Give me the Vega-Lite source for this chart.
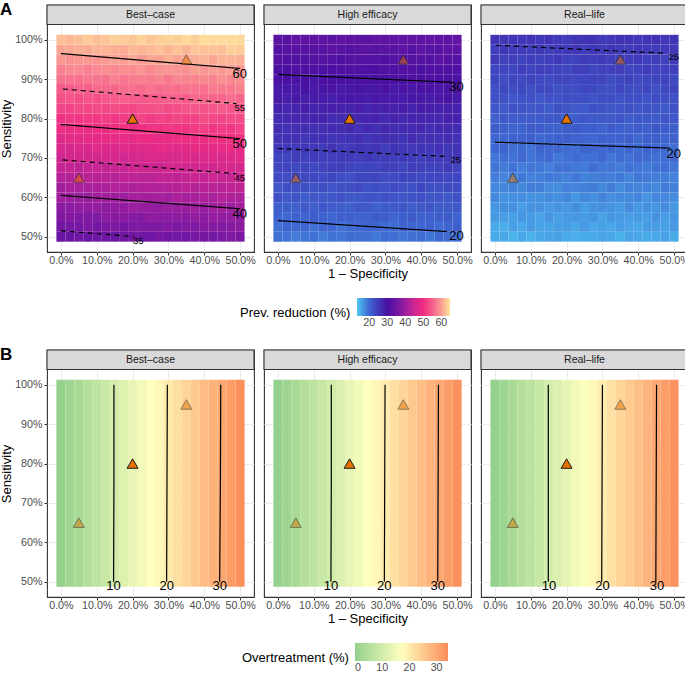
{
"$schema": "https://vega.github.io/schema/vega-lite/v6.json",
"padding": {"left": 0, "top": 0, "right": 0, "bottom": 0},
"background": "white",
"config": {
  "font": "Liberation Sans",
  "view": {"stroke": "#333333", "strokeWidth": 1.1},
  "axis": {"labelFontSize": 10.7, "labelColor": "#4D4D4D", "titleFontSize": 13, "titleFontWeight": "normal", "titleColor": "#000000", "tickColor": "#333333", "tickSize": 3, "domain": false, "gridColor": "#EBEBEB", "gridWidth": 1, "labelFlush": false, "labelOverlap": false, "titlePadding": 2},
  "axisX": {"labelPadding": 0.5},
  "axisY": {"titlePadding": 1, "labelPadding": 2},
  "legend": {"orient": "bottom", "direction": "horizontal", "titleOrient": "left", "titleAnchor": "middle", "titleBaseline": "top", "gradientLength": 93, "gradientThickness": 18, "titleFontSize": 13, "titleFontWeight": "normal", "titleColor": "#000000", "labelFontSize": 10.7, "labelColor": "#4D4D4D", "offset": 17, "titlePadding": 6, "labelOffset": 6, "gradientStrokeWidth": 0, "layout": {"bottom": {"anchor": "middle"}}},
  "title": {"fontSize": 17, "fontWeight": "bold", "anchor": "start", "frame": "bounds", "color": "#000000"},
  "concat": {"spacing": 6}
},
"datasets": {
  "xs": [
    {"i":1,"x":-0.0125,"x2":0.0125},{"i":2,"x":0.0125,"x2":0.0375},{"i":3,"x":0.0375,"x2":0.0625},{"i":4,"x":0.0625,"x2":0.0875},{"i":5,"x":0.0875,"x2":0.1125},{"i":6,"x":0.1125,"x2":0.1375},{"i":7,"x":0.1375,"x2":0.1625},{"i":8,"x":0.1625,"x2":0.1875},{"i":9,"x":0.1875,"x2":0.2125},{"i":10,"x":0.2125,"x2":0.2375},{"i":11,"x":0.2375,"x2":0.2625},{"i":12,"x":0.2625,"x2":0.2875},{"i":13,"x":0.2875,"x2":0.3125},{"i":14,"x":0.3125,"x2":0.3375},{"i":15,"x":0.3375,"x2":0.3625},{"i":16,"x":0.3625,"x2":0.3875},{"i":17,"x":0.3875,"x2":0.4125},{"i":18,"x":0.4125,"x2":0.4375},{"i":19,"x":0.4375,"x2":0.4625},{"i":20,"x":0.4625,"x2":0.4875},{"i":21,"x":0.4875,"x2":0.5125}
  ],
  "a": [
    {"t":"s","p":"Best–case"},{"t":"s","p":"High efficacy"},{"t":"s","p":"Real–life"},
    {"t":"h","p":"Best–case","y":0.4875,"y2":0.5125,"v":[34.5,34.1,34.9,34.1,34.7,34.8,34.3,35.2,35.5,35.1,35.0,36.0,35.3,35.7,35.2,36.2,36.0,35.7,36.4,36.8,36.3]},
    {"t":"h","p":"Best–case","y":0.5125,"y2":0.5375,"v":[35.2,35.8,35.7,36.5,35.7,36.4,36.7,35.9,36.5,36.9,36.5,36.7,37.4,36.4,37.3,37.0,37.8,37.6,37.4,37.7,38.1]},
    {"t":"h","p":"Best–case","y":0.5375,"y2":0.5625,"v":[37.1,37.5,36.8,37.2,36.7,37.9,37.7,38.0,37.6,37.4,38.6,38.1,38.1,38.6,38.0,38.8,38.4,39.3,38.9,38.8,38.5]},
    {"t":"h","p":"Best–case","y":0.5625,"y2":0.5875,"v":[38.2,38.1,38.9,38.8,39.2,38.5,38.8,39.1,39.8,39.4,39.1,39.0,39.9,39.6,39.8,40.4,39.5,40.4,40.6,40.0,40.6]},
    {"t":"h","p":"Best–case","y":0.5875,"y2":0.6125,"v":[40.2,39.8,39.7,39.5,40.3,40.6,40.3,40.1,40.7,41.1,40.8,41.1,40.4,41.5,41.0,41.3,41.8,41.3,42.3,41.9,41.6]},
    {"t":"h","p":"Best–case","y":0.6125,"y2":0.6375,"v":[40.5,41.5,41.4,41.2,41.5,41.4,42.3,42.1,41.6,42.0,42.6,42.1,42.5,42.5,43.2,42.3,43.1,42.9,42.8,43.6,43.5]},
    {"t":"h","p":"Best–case","y":0.6375,"y2":0.6625,"v":[42.5,42.2,43.3,43.1,42.8,43.2,42.7,43.7,43.6,43.2,43.0,44.0,43.8,43.7,44.1,44.7,44.1,44.8,44.4,44.1,45.0]},
    {"t":"h","p":"Best–case","y":0.6625,"y2":0.6875,"v":[44.3,44.2,43.6,44.1,44.6,43.9,44.6,44.5,45.3,45.1,45.1,44.7,45.6,45.6,45.1,45.6,45.8,45.3,46.4,46.2,45.9]},
    {"t":"h","p":"Best–case","y":0.6875,"y2":0.7125,"v":[45.1,46.0,45.5,46.0,45.3,46.1,46.3,45.5,46.1,46.3,46.9,46.6,46.3,46.3,47.2,46.8,47.0,47.5,46.8,47.4,48.1]},
    {"t":"h","p":"Best–case","y":0.7125,"y2":0.7375,"v":[46.8,46.3,47.2,46.7,47.7,47.2,47.0,47.6,47.9,47.5,47.7,48.3,48.2,47.6,48.2,49.0,48.2,48.4,48.8,49.1,48.5]},
    {"t":"h","p":"Best–case","y":0.7375,"y2":0.7625,"v":[47.8,48.2,47.9,48.9,48.3,49.3,49.0,48.8,48.5,49.5,49.5,48.7,49.3,49.7,50.1,49.4,49.9,50.6,49.9,50.1,50.4]},
    {"t":"h","p":"Best–case","y":0.7625,"y2":0.7875,"v":[50.0,49.3,49.8,49.1,49.9,49.6,50.1,50.7,50.0,50.0,50.7,50.6,51.1,50.7,50.7,51.2,51.7,51.0,51.4,50.9,52.0]},
    {"t":"h","p":"Best–case","y":0.7875,"y2":0.8125,"v":[50.3,51.3,50.9,51.2,50.9,51.7,50.9,51.6,51.9,52.4,51.5,52.2,51.9,52.7,52.2,52.2,53.2,52.7,52.4,53.1,52.9]},
    {"t":"h","p":"Best–case","y":0.8125,"y2":0.8375,"v":[52.4,52.2,52.9,52.5,53.0,52.6,53.2,52.7,52.5,53.3,53.3,53.9,53.0,53.4,54.0,54.1,53.6,54.2,54.6,54.0,54.4]},
    {"t":"h","p":"Best–case","y":0.8375,"y2":0.8625,"v":[53.6,54.0,53.2,54.1,53.5,54.3,54.7,55.0,54.5,54.3,54.5,54.7,55.2,55.1,54.5,55.7,55.6,55.3,55.5,56.2,55.5]},
    {"t":"h","p":"Best–case","y":0.8625,"y2":0.8875,"v":[54.6,54.5,55.4,55.0,56.0,55.6,55.6,56.1,56.3,55.8,56.6,55.9,56.4,56.0,56.7,56.6,56.3,57.2,57.2,57.1,57.7]},
    {"t":"h","p":"Best–case","y":0.8875,"y2":0.9125,"v":[56.7,56.6,56.4,57.1,56.8,56.5,57.7,56.8,57.4,57.6,57.4,58.0,57.1,58.1,57.9,57.9,58.3,57.9,58.9,58.2,58.8]},
    {"t":"h","p":"Best–case","y":0.9125,"y2":0.9375,"v":[57.7,58.4,58.4,57.6,58.4,58.7,58.2,58.7,58.5,59.3,58.3,59.1,59.3,59.2,58.9,60.1,59.3,59.9,59.6,60.3,59.5]},
    {"t":"h","p":"Best–case","y":0.9375,"y2":0.9625,"v":[59.6,59.0,59.4,59.6,59.2,59.6,60.1,59.9,60.6,59.6,60.6,60.2,61.1,60.3,60.8,60.9,61.4,60.5,61.5,61.4,61.2]},
    {"t":"h","p":"Best–case","y":0.9625,"y2":0.9875,"v":[60.4,60.7,61.1,60.8,61.5,61.6,60.9,60.8,61.8,61.6,61.9,62.4,61.6,62.4,61.6,62.5,62.3,62.5,62.2,63.3,62.9]},
    {"t":"h","p":"Best–case","y":0.9875,"y2":1.0125,"v":[62.1,61.7,62.1,62.9,62.2,62.5,63.2,63.0,62.6,63.4,62.6,63.2,63.5,63.2,63.9,63.1,64.1,64.0,64.0,63.9,63.8]},
    {"t":"h","p":"High efficacy","y":0.4875,"y2":0.5125,"v":[19.3,19.1,18.5,18.9,19.3,18.5,19.1,18.9,19.6,19.4,19.3,18.8,19.7,19.6,19.0,19.4,19.5,18.9,19.9,19.7,19.3]},
    {"t":"h","p":"High efficacy","y":0.5125,"y2":0.5375,"v":[19.4,20.2,19.7,20.1,19.3,20.0,20.1,19.2,19.7,19.9,20.4,20.0,19.7,19.6,20.4,19.9,20.0,20.4,19.6,20.2,20.8]},
    {"t":"h","p":"High efficacy","y":0.5375,"y2":0.5625,"v":[20.4,19.8,20.7,20.1,21.0,20.4,20.1,20.6,20.8,20.4,20.5,21.0,20.9,20.2,20.7,21.4,20.5,20.6,20.9,21.2,20.5]},
    {"t":"h","p":"High efficacy","y":0.5625,"y2":0.5875,"v":[20.6,20.9,20.6,21.5,20.8,21.7,21.3,21.0,20.6,21.6,21.5,20.6,21.2,21.5,21.8,21.0,21.4,22.0,21.2,21.4,21.6]},
    {"t":"h","p":"High efficacy","y":0.5875,"y2":0.6125,"v":[22.2,21.4,21.9,21.1,21.8,21.4,21.8,22.3,21.5,21.5,22.1,21.9,22.4,21.9,21.8,22.2,22.6,21.8,22.1,21.6,22.6]},
    {"t":"h","p":"High efficacy","y":0.6125,"y2":0.6375,"v":[21.8,22.7,22.3,22.5,22.1,22.8,21.9,22.5,22.7,23.2,22.2,22.8,22.5,23.2,22.6,22.5,23.4,22.8,22.4,23.1,22.8]},
    {"t":"h","p":"High efficacy","y":0.6375,"y2":0.6625,"v":[23.2,22.9,23.6,23.1,23.5,23.0,23.5,22.9,22.6,23.4,23.3,23.8,22.9,23.2,23.7,23.7,23.1,23.6,23.9,23.3,23.6]},
    {"t":"h","p":"High efficacy","y":0.6625,"y2":0.6875,"v":[23.6,23.9,23.1,23.9,23.2,23.9,24.2,24.4,23.8,23.6,23.7,23.8,24.3,24.1,23.4,24.5,24.3,23.9,24.0,24.7,23.9]},
    {"t":"h","p":"High efficacy","y":0.6875,"y2":0.7125,"v":[23.9,23.7,24.6,24.1,25.0,24.5,24.4,24.8,24.9,24.4,25.1,24.3,24.8,24.3,24.9,24.7,24.3,25.1,25.0,24.9,25.4]},
    {"t":"h","p":"High efficacy","y":0.7125,"y2":0.7375,"v":[25.3,25.1,24.9,25.5,25.1,24.7,25.8,24.8,25.3,25.5,25.2,25.7,24.8,25.7,25.4,25.3,25.6,25.1,26.0,25.3,25.8]},
    {"t":"h","p":"High efficacy","y":0.7375,"y2":0.7625,"v":[25.6,26.2,26.2,25.3,26.0,26.2,25.6,26.0,25.7,26.5,25.4,26.1,26.3,26.1,25.7,26.8,25.9,26.4,26.0,26.7,25.8]},
    {"t":"h","p":"High efficacy","y":0.7625,"y2":0.7875,"v":[26.7,26.0,26.4,26.5,26.0,26.3,26.7,26.4,27.0,26.0,26.9,26.4,27.3,26.4,26.8,26.8,27.2,26.2,27.1,27.0,26.7]},
    {"t":"h","p":"High efficacy","y":0.7875,"y2":0.8125,"v":[26.8,27.0,27.4,27.0,27.6,27.6,26.8,26.6,27.5,27.3,27.5,27.9,27.1,27.8,26.9,27.7,27.4,27.5,27.1,28.2,27.7]},
    {"t":"h","p":"High efficacy","y":0.8125,"y2":0.8375,"v":[27.8,27.3,27.7,28.4,27.6,27.8,28.4,28.1,27.6,28.4,27.5,28.0,28.3,27.9,28.5,27.6,28.5,28.3,28.2,28.1,27.9]},
    {"t":"h","p":"High efficacy","y":0.8375,"y2":0.8625,"v":[28.7,28.2,29.0,28.1,28.6,28.6,28.0,28.8,29.0,28.6,28.4,29.3,28.6,28.9,28.3,29.2,28.9,28.5,29.1,29.5,28.9]},
    {"t":"h","p":"High efficacy","y":0.8625,"y2":0.8875,"v":[28.6,29.1,29.0,29.7,28.8,29.4,29.6,28.7,29.2,29.6,29.1,29.2,29.9,28.8,29.6,29.2,29.9,29.6,29.3,29.6,29.9]},
    {"t":"h","p":"High efficacy","y":0.8875,"y2":0.9125,"v":[29.9,30.2,29.5,29.8,29.2,30.3,30.0,30.2,29.7,29.5,30.6,30.0,30.0,30.4,29.7,30.4,29.9,30.7,30.2,30.1,29.7]},
    {"t":"h","p":"High efficacy","y":0.9125,"y2":0.9375,"v":[30.3,30.1,30.9,30.7,31.0,30.2,30.4,30.6,31.2,30.8,30.4,30.2,31.1,30.7,30.8,31.3,30.3,31.1,31.2,30.6,31.1]},
    {"t":"h","p":"High efficacy","y":0.9375,"y2":0.9625,"v":[31.6,31.1,31.0,30.7,31.4,31.6,31.2,30.9,31.4,31.8,31.4,31.6,30.9,31.9,31.3,31.5,31.9,31.3,32.2,31.8,31.4]},
    {"t":"h","p":"High efficacy","y":0.9625,"y2":0.9875,"v":[31.1,32.0,31.9,31.6,31.8,31.6,32.4,32.1,31.5,31.9,32.4,31.8,32.2,32.1,32.7,31.7,32.4,32.1,31.9,32.7,32.5]},
    {"t":"h","p":"High efficacy","y":0.9875,"y2":1.0125,"v":[32.4,32.0,33.1,32.8,32.4,32.7,32.1,33.0,32.8,32.4,32.1,33.0,32.8,32.6,32.9,33.4,32.7,33.3,32.8,32.5,33.3]},
    {"t":"h","p":"Real–life","y":0.4875,"y2":0.5125,"v":[15.1,15.4,14.5,15.3,14.7,15.3,15.6,15.8,15.2,14.9,15.1,15.2,15.6,15.4,14.7,15.7,15.5,15.2,15.3,15.9,15.1]},
    {"t":"h","p":"Real–life","y":0.5125,"y2":0.5375,"v":[15.2,15.0,15.8,15.3,16.3,15.7,15.6,16.0,16.1,15.5,16.3,15.5,15.9,15.4,16.0,15.7,15.3,16.2,16.1,15.9,16.4]},
    {"t":"h","p":"Real–life","y":0.5375,"y2":0.5625,"v":[16.4,16.2,15.9,16.5,16.2,15.7,16.8,15.8,16.3,16.4,16.2,16.7,15.7,16.6,16.3,16.1,16.4,16.0,16.9,16.1,16.6]},
    {"t":"h","p":"Real–life","y":0.5625,"y2":0.5875,"v":[16.5,17.1,17.0,16.1,16.9,17.0,16.4,16.8,16.5,17.2,16.2,16.9,17.0,16.8,16.4,17.4,16.5,17.1,16.7,17.3,16.4]},
    {"t":"h","p":"Real–life","y":0.5875,"y2":0.6125,"v":[17.5,16.8,17.1,17.2,16.8,17.0,17.4,17.1,17.7,16.6,17.6,17.1,17.9,17.0,17.4,17.3,17.7,16.8,17.7,17.5,17.2]},
    {"t":"h","p":"Real–life","y":0.6125,"y2":0.6375,"v":[17.5,17.7,18.0,17.6,18.3,18.2,17.4,17.2,18.1,17.8,18.1,18.5,17.6,18.3,17.4,18.1,17.8,18.0,17.6,18.6,18.1]},
    {"t":"h","p":"Real–life","y":0.6375,"y2":0.6625,"v":[18.3,17.8,18.1,18.8,18.1,18.2,18.8,18.5,18.0,18.7,17.9,18.4,18.6,18.2,18.8,17.8,18.7,18.6,18.5,18.3,18.1]},
    {"t":"h","p":"Real–life","y":0.6625,"y2":0.6875,"v":[19.0,18.5,19.2,18.3,18.9,18.8,18.2,19.0,19.2,18.7,18.6,19.5,18.7,19.0,18.4,19.2,18.9,18.6,19.2,19.5,18.9]},
    {"t":"h","p":"Real–life","y":0.6875,"y2":0.7125,"v":[18.8,19.3,19.1,19.8,19.0,19.5,19.7,18.8,19.3,19.6,19.2,19.3,19.9,18.8,19.6,19.1,19.8,19.6,19.3,19.5,19.8]},
    {"t":"h","p":"Real–life","y":0.7125,"y2":0.7375,"v":[19.9,20.2,19.4,19.7,19.2,20.2,19.9,20.1,19.6,19.3,20.5,19.9,19.8,20.2,19.5,20.1,19.6,20.5,20.0,19.8,19.4]},
    {"t":"h","p":"Real–life","y":0.7375,"y2":0.7625,"v":[20.1,19.9,20.6,20.4,20.8,19.9,20.1,20.3,20.9,20.4,20.1,19.9,20.7,20.3,20.4,20.8,19.8,20.7,20.8,20.1,20.6]},
    {"t":"h","p":"Real–life","y":0.7625,"y2":0.7875,"v":[21.2,20.7,20.5,20.2,21.0,21.1,20.7,20.4,20.9,21.2,20.9,21.1,20.3,21.3,20.7,20.8,21.2,20.7,21.6,21.1,20.7]},
    {"t":"h","p":"Real–life","y":0.7875,"y2":0.8125,"v":[20.6,21.5,21.3,21.0,21.3,21.0,21.8,21.5,20.9,21.2,21.8,21.2,21.5,21.4,22.0,20.9,21.6,21.4,21.2,21.9,21.7]},
    {"t":"h","p":"Real–life","y":0.8125,"y2":0.8375,"v":[21.7,21.3,22.3,22.0,21.7,21.9,21.3,22.2,22.0,21.5,21.3,22.2,21.9,21.7,22.0,22.4,21.7,22.4,21.9,21.5,22.3]},
    {"t":"h","p":"Real–life","y":0.8375,"y2":0.8625,"v":[22.6,22.4,21.7,22.1,22.6,21.7,22.3,22.1,22.8,22.5,22.5,22.0,22.8,22.7,22.1,22.4,22.5,22.0,23.0,22.7,22.3]},
    {"t":"h","p":"Real–life","y":0.8625,"y2":0.8875,"v":[22.6,23.4,22.8,23.2,22.5,23.1,23.2,22.3,22.8,22.9,23.5,23.1,22.7,22.6,23.4,22.8,22.9,23.4,22.6,23.1,23.7]},
    {"t":"h","p":"Real–life","y":0.8875,"y2":0.9125,"v":[23.4,22.8,23.6,23.0,24.0,23.3,23.0,23.5,23.7,23.2,23.4,23.9,23.7,23.0,23.5,24.1,23.2,23.4,23.7,23.9,23.2]},
    {"t":"h","p":"Real–life","y":0.9125,"y2":0.9375,"v":[23.5,23.8,23.4,24.3,23.7,24.5,24.1,23.8,23.4,24.3,24.3,23.4,23.9,24.2,24.5,23.6,24.0,24.7,23.9,24.0,24.2]},
    {"t":"h","p":"Real–life","y":0.9375,"y2":0.9625,"v":[24.9,24.1,24.5,23.7,24.5,24.0,24.4,24.9,24.1,24.0,24.7,24.5,24.9,24.4,24.3,24.6,25.0,24.3,24.6,24.0,25.0]},
    {"t":"h","p":"Real–life","y":0.9625,"y2":0.9875,"v":[24.3,25.2,24.7,24.9,24.6,25.2,24.3,24.9,25.1,25.5,24.6,25.2,24.8,25.5,24.9,24.7,25.6,25.1,24.7,25.3,25.0]},
    {"t":"h","p":"Real–life","y":0.9875,"y2":1.0125,"v":[25.5,25.2,25.8,25.3,25.8,25.2,25.7,25.1,24.8,25.5,25.5,26.0,25.0,25.3,25.8,25.7,25.1,25.7,26.0,25.3,25.6]},
    {"t":"l","p":"Best–case","lev":"60","d":"s","x":0,"y":0.965},{"t":"l","p":"Best–case","lev":"60","d":"s","x":0.5,"y":0.927},
    {"t":"l","p":"Best–case","lev":"55","d":"d","x":0.005,"y":0.875},{"t":"l","p":"Best–case","lev":"55","d":"d","x":0.49,"y":0.838},
    {"t":"l","p":"Best–case","lev":"50","d":"s","x":0,"y":0.785},{"t":"l","p":"Best–case","lev":"50","d":"s","x":0.5,"y":0.749},
    {"t":"l","p":"Best–case","lev":"45","d":"d","x":0.005,"y":0.695},{"t":"l","p":"Best–case","lev":"45","d":"d","x":0.49,"y":0.66},
    {"t":"l","p":"Best–case","lev":"40","d":"s","x":0,"y":0.605},{"t":"l","p":"Best–case","lev":"40","d":"s","x":0.5,"y":0.571},
    {"t":"l","p":"Best–case","lev":"35","d":"d","x":0,"y":0.515},{"t":"l","p":"Best–case","lev":"35","d":"d","x":0.204,"y":0.5005},
    {"t":"l","p":"High efficacy","lev":"30","d":"s","x":0,"y":0.912},{"t":"l","p":"High efficacy","lev":"30","d":"s","x":0.487,"y":0.892},
    {"t":"l","p":"High efficacy","lev":"25","d":"d","x":0,"y":0.724},{"t":"l","p":"High efficacy","lev":"25","d":"d","x":0.465,"y":0.704},
    {"t":"l","p":"High efficacy","lev":"20","d":"s","x":0,"y":0.541},{"t":"l","p":"High efficacy","lev":"20","d":"s","x":0.472,"y":0.513},
    {"t":"l","p":"Real–life","lev":"25","d":"d","x":0.003,"y":0.986},{"t":"l","p":"Real–life","lev":"25","d":"d","x":0.47,"y":0.966},
    {"t":"l","p":"Real–life","lev":"20","d":"s","x":0,"y":0.74},{"t":"l","p":"Real–life","lev":"20","d":"s","x":0.489,"y":0.725},
    {"t":"lab","p":"Best–case","txt":"60","d":"s","x":0.499,"y":0.914},
    {"t":"lab","p":"Best–case","txt":"55","d":"d","x":0.499,"y":0.827},
    {"t":"lab","p":"Best–case","txt":"50","d":"s","x":0.499,"y":0.735},
    {"t":"lab","p":"Best–case","txt":"45","d":"d","x":0.499,"y":0.65},
    {"t":"lab","p":"Best–case","txt":"40","d":"s","x":0.499,"y":0.557},
    {"t":"lab","p":"Best–case","txt":"35","d":"d","x":0.216,"y":0.49},
    {"t":"lab","p":"High efficacy","txt":"30","d":"s","x":0.498,"y":0.879},
    {"t":"lab","p":"High efficacy","txt":"25","d":"d","x":0.496,"y":0.696},
    {"t":"lab","p":"High efficacy","txt":"20","d":"s","x":0.498,"y":0.503},
    {"t":"lab","p":"Real–life","txt":"25","d":"d","x":0.499,"y":0.955},
    {"t":"lab","p":"Real–life","txt":"20","d":"s","x":0.499,"y":0.71},
    {"t":"tri","p":"Best–case","hi":"n","x":0.05,"y":0.65},{"t":"tri","p":"Best–case","hi":"y","x":0.2,"y":0.8},{"t":"tri","p":"Best–case","hi":"n","x":0.35,"y":0.95},
    {"t":"tri","p":"High efficacy","hi":"n","x":0.05,"y":0.65},{"t":"tri","p":"High efficacy","hi":"y","x":0.2,"y":0.8},{"t":"tri","p":"High efficacy","hi":"n","x":0.35,"y":0.95},
    {"t":"tri","p":"Real–life","hi":"n","x":0.05,"y":0.65},{"t":"tri","p":"Real–life","hi":"y","x":0.2,"y":0.8},{"t":"tri","p":"Real–life","hi":"n","x":0.35,"y":0.95}
  ],
  "b": [
    {"t":"s","p":"Best–case"},{"t":"s","p":"High efficacy"},{"t":"s","p":"Real–life"},
    {"t":"h","p":"Best–case","y":0.4875,"y2":1.0125,"v":[0.0,1.7,3.4,5.1,6.7,8.4,10.1,11.8,13.5,15.2,16.9,18.5,20.2,21.9,23.6,25.3,27.0,28.6,30.3,32.0,33.7]},
    {"t":"h","p":"High efficacy","y":0.4875,"y2":1.0125,"v":[0.0,1.7,3.3,5.0,6.7,8.4,10.0,11.7,13.4,15.1,16.8,18.4,20.1,21.8,23.5,25.2,26.8,28.5,30.2,31.9,33.6]},
    {"t":"h","p":"Real–life","y":0.4875,"y2":1.0125,"v":[0.0,1.6,3.3,5.0,6.6,8.3,10.0,11.6,13.3,15.0,16.7,18.3,20.0,21.7,23.4,25.0,26.7,28.4,30.1,31.7,33.4]},
    {"t":"l","p":"Best–case","lev":"10","d":"s","x":0.148,"y":1.0},{"t":"l","p":"Best–case","lev":"10","d":"s","x":0.148,"y":0.75},{"t":"l","p":"Best–case","lev":"10","d":"s","x":0.147,"y":0.5},
    {"t":"l","p":"Best–case","lev":"20","d":"s","x":0.297,"y":1.0},{"t":"l","p":"Best–case","lev":"20","d":"s","x":0.296,"y":0.75},{"t":"l","p":"Best–case","lev":"20","d":"s","x":0.295,"y":0.5},
    {"t":"l","p":"Best–case","lev":"30","d":"s","x":0.446,"y":1.0},{"t":"l","p":"Best–case","lev":"30","d":"s","x":0.445,"y":0.75},{"t":"l","p":"Best–case","lev":"30","d":"s","x":0.443,"y":0.5},
    {"t":"l","p":"High efficacy","lev":"10","d":"s","x":0.149,"y":1.0},{"t":"l","p":"High efficacy","lev":"10","d":"s","x":0.149,"y":0.75},{"t":"l","p":"High efficacy","lev":"10","d":"s","x":0.148,"y":0.5},
    {"t":"l","p":"High efficacy","lev":"20","d":"s","x":0.299,"y":1.0},{"t":"l","p":"High efficacy","lev":"20","d":"s","x":0.298,"y":0.75},{"t":"l","p":"High efficacy","lev":"20","d":"s","x":0.297,"y":0.5},
    {"t":"l","p":"High efficacy","lev":"30","d":"s","x":0.448,"y":1.0},{"t":"l","p":"High efficacy","lev":"30","d":"s","x":0.447,"y":0.75},{"t":"l","p":"High efficacy","lev":"30","d":"s","x":0.446,"y":0.5},
    {"t":"l","p":"Real–life","lev":"10","d":"s","x":0.149,"y":1.0},{"t":"l","p":"Real–life","lev":"10","d":"s","x":0.149,"y":0.75},{"t":"l","p":"Real–life","lev":"10","d":"s","x":0.149,"y":0.5},
    {"t":"l","p":"Real–life","lev":"20","d":"s","x":0.3,"y":1.0},{"t":"l","p":"Real–life","lev":"20","d":"s","x":0.299,"y":0.75},{"t":"l","p":"Real–life","lev":"20","d":"s","x":0.298,"y":0.5},
    {"t":"l","p":"Real–life","lev":"30","d":"s","x":0.451,"y":1.0},{"t":"l","p":"Real–life","lev":"30","d":"s","x":0.45,"y":0.75},{"t":"l","p":"Real–life","lev":"30","d":"s","x":0.449,"y":0.5},
    {"t":"lab","p":"Best–case","txt":"10","d":"s","x":0.147,"y":0.488},{"t":"lab","p":"Best–case","txt":"20","d":"s","x":0.295,"y":0.488},{"t":"lab","p":"Best–case","txt":"30","d":"s","x":0.443,"y":0.488},
    {"t":"lab","p":"High efficacy","txt":"10","d":"s","x":0.148,"y":0.488},{"t":"lab","p":"High efficacy","txt":"20","d":"s","x":0.297,"y":0.488},{"t":"lab","p":"High efficacy","txt":"30","d":"s","x":0.446,"y":0.488},
    {"t":"lab","p":"Real–life","txt":"10","d":"s","x":0.151,"y":0.488},{"t":"lab","p":"Real–life","txt":"20","d":"s","x":0.3,"y":0.488},{"t":"lab","p":"Real–life","txt":"30","d":"s","x":0.452,"y":0.488},
    {"t":"tri","p":"Best–case","hi":"n","x":0.05,"y":0.65},{"t":"tri","p":"Best–case","hi":"y","x":0.2,"y":0.8},{"t":"tri","p":"Best–case","hi":"n","x":0.35,"y":0.95},
    {"t":"tri","p":"High efficacy","hi":"n","x":0.05,"y":0.65},{"t":"tri","p":"High efficacy","hi":"y","x":0.2,"y":0.8},{"t":"tri","p":"High efficacy","hi":"n","x":0.35,"y":0.95},
    {"t":"tri","p":"Real–life","hi":"n","x":0.05,"y":0.65},{"t":"tri","p":"Real–life","hi":"y","x":0.2,"y":0.8},{"t":"tri","p":"Real–life","hi":"n","x":0.35,"y":0.95}
  ]
},
"vconcat": [
  {
    "title": {"text": "A", "offset": -15},
    "hconcat": [
      {
        "width": 207, "height": 247, "data": {"name": "a"},
        "transform": [{"filter": "datum.p === 'Best–case'"}],
        "layer": [
          {"transform": [{"filter": "datum.t === 'h'"}, {"flatten": ["v"]}, {"window": [{"op": "row_number", "as": "i"}], "groupby": ["y"]}, {"lookup": "i", "from": {"data": {"name": "xs"}, "key": "i", "fields": ["x", "x2"]}}],
           "mark": {"type": "rect", "strokeWidth": 0},
           "encoding": {
             "x": {"field": "x", "type": "quantitative", "scale": {"domain": [-0.03875, 0.53875], "nice": false, "zero": false}, "axis": {"values": [0, 0.1, 0.2, 0.3, 0.4, 0.5], "format": ".1%", "title": null}},
             "y": {"field": "y", "type": "quantitative", "scale": {"domain": [0.46125, 1.0882], "nice": false, "zero": false}, "axis": {"values": [0.5, 0.6, 0.7, 0.8, 0.9, 1.0], "format": ".0%", "title": "Sensitivity"}},
             "x2": {"field": "x2"}, "y2": {"field": "y2"},
             "color": {"field": "v", "type": "quantitative", "scale": {"domain": [13.2, 20, 25, 30, 35, 40, 45, 50, 55, 60, 64.8], "range": ["#4FC6F2", "#3E66D0", "#4039B8", "#4A10A2", "#6E16A3", "#9C1E9E", "#CD2691", "#EF2D82", "#F65F8C", "#FA9E93", "#FFE79B"], "interpolate": "rgb"}, "legend": {"title": "Prev. reduction (%)", "values": [20, 30, 40, 50, 60]}}}},
          {"transform": [{"filter": "datum.t === 'l'"}], "mark": {"type": "line", "color": "#000000", "strokeWidth": 1.2},
           "encoding": {
             "x": {"field": "x", "type": "quantitative", "scale": {"domain": [-0.03875, 0.53875], "nice": false, "zero": false}, "axis": {"values": [0, 0.1, 0.2, 0.3, 0.4, 0.5], "format": ".1%", "title": null}},
             "y": {"field": "y", "type": "quantitative", "scale": {"domain": [0.46125, 1.0882], "nice": false, "zero": false}, "axis": {"values": [0.5, 0.6, 0.7, 0.8, 0.9, 1.0], "format": ".0%", "title": "Sensitivity"}},
             "detail": {"field": "lev"}, "order": {"field": "x"}, "strokeDash": {"field": "d", "type": "nominal", "scale": {"domain": ["s", "d"], "range": [[1, 0], [5, 4]]}, "legend": null}}},
          {"transform": [{"filter": "datum.t === 'lab'"}], "mark": {"type": "text", "color": "#000000", "align": "center", "baseline": "middle"},
           "encoding": {
             "x": {"field": "x", "type": "quantitative", "scale": {"domain": [-0.03875, 0.53875], "nice": false, "zero": false}, "axis": {"values": [0, 0.1, 0.2, 0.3, 0.4, 0.5], "format": ".1%", "title": null}},
             "y": {"field": "y", "type": "quantitative", "scale": {"domain": [0.46125, 1.0882], "nice": false, "zero": false}, "axis": {"values": [0.5, 0.6, 0.7, 0.8, 0.9, 1.0], "format": ".0%", "title": "Sensitivity"}},
             "text": {"field": "txt"}, "size": {"field": "d", "type": "ordinal", "scale": {"domain": ["s", "d"], "range": [13, 9.5]}, "legend": null}}},
          {"transform": [{"filter": "datum.t === 'tri'"}], "mark": {"type": "point", "shape": "triangle-up", "filled": true, "size": 120, "fill": "#E67300", "stroke": "#1A1A1A", "strokeWidth": 1},
           "encoding": {
             "x": {"field": "x", "type": "quantitative", "scale": {"domain": [-0.03875, 0.53875], "nice": false, "zero": false}, "axis": {"values": [0, 0.1, 0.2, 0.3, 0.4, 0.5], "format": ".1%", "title": null}},
             "y": {"field": "y", "type": "quantitative", "scale": {"domain": [0.46125, 1.0882], "nice": false, "zero": false}, "axis": {"values": [0.5, 0.6, 0.7, 0.8, 0.9, 1.0], "format": ".0%", "title": "Sensitivity"}},
             "opacity": {"field": "hi", "type": "nominal", "scale": {"domain": ["y", "n"], "range": [1, 0.5]}, "legend": null}}},
          {"transform": [{"filter": "datum.t === 's'"}], "mark": {"type": "rect", "fill": "#D9D9D9", "stroke": "#333333", "strokeWidth": 1.1},
           "encoding": {"x": {"datum": -0.03875}, "x2": {"datum": 0.53875}, "y": {"datum": 1.03875}, "y2": {"datum": 1.0882}}},
          {"transform": [{"filter": "datum.t === 's'"}], "mark": {"type": "text", "fontSize": 10.5, "color": "#1A1A1A", "align": "center", "baseline": "middle"},
           "encoding": {"x": {"datum": 0.25}, "y": {"datum": 1.0635}, "text": {"field": "p"}}}
        ]
      },
      {
        "width": 207, "height": 247, "data": {"name": "a"},
        "transform": [{"filter": "datum.p === 'High efficacy'"}],
        "layer": [
          {"transform": [{"filter": "datum.t === 'h'"}, {"flatten": ["v"]}, {"window": [{"op": "row_number", "as": "i"}], "groupby": ["y"]}, {"lookup": "i", "from": {"data": {"name": "xs"}, "key": "i", "fields": ["x", "x2"]}}],
           "mark": {"type": "rect", "strokeWidth": 0},
           "encoding": {
             "x": {"field": "x", "type": "quantitative", "scale": {"domain": [-0.03875, 0.53875], "nice": false, "zero": false}, "axis": {"values": [0, 0.1, 0.2, 0.3, 0.4, 0.5], "format": ".1%", "title": "1 – Specificity"}},
             "y": {"field": "y", "type": "quantitative", "scale": {"domain": [0.46125, 1.0882], "nice": false, "zero": false}, "axis": {"values": [0.5, 0.6, 0.7, 0.8, 0.9, 1.0], "labels": false, "ticks": false, "title": null}},
             "x2": {"field": "x2"}, "y2": {"field": "y2"},
             "color": {"field": "v", "type": "quantitative", "scale": {"domain": [13.2, 20, 25, 30, 35, 40, 45, 50, 55, 60, 64.8], "range": ["#4FC6F2", "#3E66D0", "#4039B8", "#4A10A2", "#6E16A3", "#9C1E9E", "#CD2691", "#EF2D82", "#F65F8C", "#FA9E93", "#FFE79B"], "interpolate": "rgb"}, "legend": {"title": "Prev. reduction (%)", "values": [20, 30, 40, 50, 60]}}}},
          {"transform": [{"filter": "datum.t === 'l'"}], "mark": {"type": "line", "color": "#000000", "strokeWidth": 1.2},
           "encoding": {
             "x": {"field": "x", "type": "quantitative", "scale": {"domain": [-0.03875, 0.53875], "nice": false, "zero": false}, "axis": {"values": [0, 0.1, 0.2, 0.3, 0.4, 0.5], "format": ".1%", "title": "1 – Specificity"}},
             "y": {"field": "y", "type": "quantitative", "scale": {"domain": [0.46125, 1.0882], "nice": false, "zero": false}, "axis": {"values": [0.5, 0.6, 0.7, 0.8, 0.9, 1.0], "labels": false, "ticks": false, "title": null}},
             "detail": {"field": "lev"}, "order": {"field": "x"}, "strokeDash": {"field": "d", "type": "nominal", "scale": {"domain": ["s", "d"], "range": [[1, 0], [5, 4]]}, "legend": null}}},
          {"transform": [{"filter": "datum.t === 'lab'"}], "mark": {"type": "text", "color": "#000000", "align": "center", "baseline": "middle"},
           "encoding": {
             "x": {"field": "x", "type": "quantitative", "scale": {"domain": [-0.03875, 0.53875], "nice": false, "zero": false}, "axis": {"values": [0, 0.1, 0.2, 0.3, 0.4, 0.5], "format": ".1%", "title": "1 – Specificity"}},
             "y": {"field": "y", "type": "quantitative", "scale": {"domain": [0.46125, 1.0882], "nice": false, "zero": false}, "axis": {"values": [0.5, 0.6, 0.7, 0.8, 0.9, 1.0], "labels": false, "ticks": false, "title": null}},
             "text": {"field": "txt"}, "size": {"field": "d", "type": "ordinal", "scale": {"domain": ["s", "d"], "range": [13, 9.5]}, "legend": null}}},
          {"transform": [{"filter": "datum.t === 'tri'"}], "mark": {"type": "point", "shape": "triangle-up", "filled": true, "size": 120, "fill": "#E67300", "stroke": "#1A1A1A", "strokeWidth": 1},
           "encoding": {
             "x": {"field": "x", "type": "quantitative", "scale": {"domain": [-0.03875, 0.53875], "nice": false, "zero": false}, "axis": {"values": [0, 0.1, 0.2, 0.3, 0.4, 0.5], "format": ".1%", "title": "1 – Specificity"}},
             "y": {"field": "y", "type": "quantitative", "scale": {"domain": [0.46125, 1.0882], "nice": false, "zero": false}, "axis": {"values": [0.5, 0.6, 0.7, 0.8, 0.9, 1.0], "labels": false, "ticks": false, "title": null}},
             "opacity": {"field": "hi", "type": "nominal", "scale": {"domain": ["y", "n"], "range": [1, 0.5]}, "legend": null}}},
          {"transform": [{"filter": "datum.t === 's'"}], "mark": {"type": "rect", "fill": "#D9D9D9", "stroke": "#333333", "strokeWidth": 1.1},
           "encoding": {"x": {"datum": -0.03875}, "x2": {"datum": 0.53875}, "y": {"datum": 1.03875}, "y2": {"datum": 1.0882}}},
          {"transform": [{"filter": "datum.t === 's'"}], "mark": {"type": "text", "fontSize": 10.5, "color": "#1A1A1A", "align": "center", "baseline": "middle"},
           "encoding": {"x": {"datum": 0.25}, "y": {"datum": 1.0635}, "text": {"field": "p"}}}
        ]
      },
      {
        "width": 207, "height": 247, "data": {"name": "a"},
        "transform": [{"filter": "datum.p === 'Real–life'"}],
        "layer": [
          {"transform": [{"filter": "datum.t === 'h'"}, {"flatten": ["v"]}, {"window": [{"op": "row_number", "as": "i"}], "groupby": ["y"]}, {"lookup": "i", "from": {"data": {"name": "xs"}, "key": "i", "fields": ["x", "x2"]}}],
           "mark": {"type": "rect", "strokeWidth": 0},
           "encoding": {
             "x": {"field": "x", "type": "quantitative", "scale": {"domain": [-0.03875, 0.53875], "nice": false, "zero": false}, "axis": {"values": [0, 0.1, 0.2, 0.3, 0.4, 0.5], "format": ".1%", "title": null}},
             "y": {"field": "y", "type": "quantitative", "scale": {"domain": [0.46125, 1.0882], "nice": false, "zero": false}, "axis": {"values": [0.5, 0.6, 0.7, 0.8, 0.9, 1.0], "labels": false, "ticks": false, "title": null}},
             "x2": {"field": "x2"}, "y2": {"field": "y2"},
             "color": {"field": "v", "type": "quantitative", "scale": {"domain": [13.2, 20, 25, 30, 35, 40, 45, 50, 55, 60, 64.8], "range": ["#4FC6F2", "#3E66D0", "#4039B8", "#4A10A2", "#6E16A3", "#9C1E9E", "#CD2691", "#EF2D82", "#F65F8C", "#FA9E93", "#FFE79B"], "interpolate": "rgb"}, "legend": {"title": "Prev. reduction (%)", "values": [20, 30, 40, 50, 60]}}}},
          {"transform": [{"filter": "datum.t === 'l'"}], "mark": {"type": "line", "color": "#000000", "strokeWidth": 1.2},
           "encoding": {
             "x": {"field": "x", "type": "quantitative", "scale": {"domain": [-0.03875, 0.53875], "nice": false, "zero": false}, "axis": {"values": [0, 0.1, 0.2, 0.3, 0.4, 0.5], "format": ".1%", "title": null}},
             "y": {"field": "y", "type": "quantitative", "scale": {"domain": [0.46125, 1.0882], "nice": false, "zero": false}, "axis": {"values": [0.5, 0.6, 0.7, 0.8, 0.9, 1.0], "labels": false, "ticks": false, "title": null}},
             "detail": {"field": "lev"}, "order": {"field": "x"}, "strokeDash": {"field": "d", "type": "nominal", "scale": {"domain": ["s", "d"], "range": [[1, 0], [5, 4]]}, "legend": null}}},
          {"transform": [{"filter": "datum.t === 'lab'"}], "mark": {"type": "text", "color": "#000000", "align": "center", "baseline": "middle"},
           "encoding": {
             "x": {"field": "x", "type": "quantitative", "scale": {"domain": [-0.03875, 0.53875], "nice": false, "zero": false}, "axis": {"values": [0, 0.1, 0.2, 0.3, 0.4, 0.5], "format": ".1%", "title": null}},
             "y": {"field": "y", "type": "quantitative", "scale": {"domain": [0.46125, 1.0882], "nice": false, "zero": false}, "axis": {"values": [0.5, 0.6, 0.7, 0.8, 0.9, 1.0], "labels": false, "ticks": false, "title": null}},
             "text": {"field": "txt"}, "size": {"field": "d", "type": "ordinal", "scale": {"domain": ["s", "d"], "range": [13, 9.5]}, "legend": null}}},
          {"transform": [{"filter": "datum.t === 'tri'"}], "mark": {"type": "point", "shape": "triangle-up", "filled": true, "size": 120, "fill": "#E67300", "stroke": "#1A1A1A", "strokeWidth": 1},
           "encoding": {
             "x": {"field": "x", "type": "quantitative", "scale": {"domain": [-0.03875, 0.53875], "nice": false, "zero": false}, "axis": {"values": [0, 0.1, 0.2, 0.3, 0.4, 0.5], "format": ".1%", "title": null}},
             "y": {"field": "y", "type": "quantitative", "scale": {"domain": [0.46125, 1.0882], "nice": false, "zero": false}, "axis": {"values": [0.5, 0.6, 0.7, 0.8, 0.9, 1.0], "labels": false, "ticks": false, "title": null}},
             "opacity": {"field": "hi", "type": "nominal", "scale": {"domain": ["y", "n"], "range": [1, 0.5]}, "legend": null}}},
          {"transform": [{"filter": "datum.t === 's'"}], "mark": {"type": "rect", "fill": "#D9D9D9", "stroke": "#333333", "strokeWidth": 1.1},
           "encoding": {"x": {"datum": -0.03875}, "x2": {"datum": 0.53875}, "y": {"datum": 1.03875}, "y2": {"datum": 1.0882}}},
          {"transform": [{"filter": "datum.t === 's'"}], "mark": {"type": "text", "fontSize": 10.5, "color": "#1A1A1A", "align": "center", "baseline": "middle"},
           "encoding": {"x": {"datum": 0.25}, "y": {"datum": 1.0635}, "text": {"field": "p"}}}
        ]
      }
    ]
  },
  {
    "title": {"text": "B", "offset": -15},
    "hconcat": [
      {
        "width": 207, "height": 247, "data": {"name": "b"},
        "transform": [{"filter": "datum.p === 'Best–case'"}],
        "layer": [
          {"transform": [{"filter": "datum.t === 'h'"}, {"flatten": ["v"]}, {"window": [{"op": "row_number", "as": "i"}], "groupby": ["y"]}, {"lookup": "i", "from": {"data": {"name": "xs"}, "key": "i", "fields": ["x", "x2"]}}],
           "mark": {"type": "rect", "strokeWidth": 0},
           "encoding": {
             "x": {"field": "x", "type": "quantitative", "scale": {"domain": [-0.03875, 0.53875], "nice": false, "zero": false}, "axis": {"values": [0, 0.1, 0.2, 0.3, 0.4, 0.5], "format": ".1%", "title": null}},
             "y": {"field": "y", "type": "quantitative", "scale": {"domain": [0.46125, 1.0882], "nice": false, "zero": false}, "axis": {"values": [0.5, 0.6, 0.7, 0.8, 0.9, 1.0], "format": ".0%", "title": "Sensitivity"}},
             "x2": {"field": "x2"}, "y2": {"field": "y2"},
             "color": {"field": "v", "type": "quantitative", "scale": {"domain": [0, 17.1, 34.2], "range": ["#93D18C", "#FFFFBF", "#FC8D59"], "interpolate": "rgb"}, "legend": {"title": "Overtreatment (%)", "values": [0, 10, 20, 30]}}}},
          {"transform": [{"filter": "datum.t === 'l'"}], "mark": {"type": "line", "color": "#000000", "strokeWidth": 1.2},
           "encoding": {
             "x": {"field": "x", "type": "quantitative", "scale": {"domain": [-0.03875, 0.53875], "nice": false, "zero": false}, "axis": {"values": [0, 0.1, 0.2, 0.3, 0.4, 0.5], "format": ".1%", "title": null}},
             "y": {"field": "y", "type": "quantitative", "scale": {"domain": [0.46125, 1.0882], "nice": false, "zero": false}, "axis": {"values": [0.5, 0.6, 0.7, 0.8, 0.9, 1.0], "format": ".0%", "title": "Sensitivity"}},
             "detail": {"field": "lev"}, "order": {"field": "y"}}},
          {"transform": [{"filter": "datum.t === 'lab'"}], "mark": {"type": "text", "color": "#000000", "align": "center", "baseline": "middle", "fontSize": 13},
           "encoding": {
             "x": {"field": "x", "type": "quantitative", "scale": {"domain": [-0.03875, 0.53875], "nice": false, "zero": false}, "axis": {"values": [0, 0.1, 0.2, 0.3, 0.4, 0.5], "format": ".1%", "title": null}},
             "y": {"field": "y", "type": "quantitative", "scale": {"domain": [0.46125, 1.0882], "nice": false, "zero": false}, "axis": {"values": [0.5, 0.6, 0.7, 0.8, 0.9, 1.0], "format": ".0%", "title": "Sensitivity"}},
             "text": {"field": "txt"}}},
          {"transform": [{"filter": "datum.t === 'tri'"}], "mark": {"type": "point", "shape": "triangle-up", "filled": true, "size": 120, "fill": "#E67300", "stroke": "#1A1A1A", "strokeWidth": 1},
           "encoding": {
             "x": {"field": "x", "type": "quantitative", "scale": {"domain": [-0.03875, 0.53875], "nice": false, "zero": false}, "axis": {"values": [0, 0.1, 0.2, 0.3, 0.4, 0.5], "format": ".1%", "title": null}},
             "y": {"field": "y", "type": "quantitative", "scale": {"domain": [0.46125, 1.0882], "nice": false, "zero": false}, "axis": {"values": [0.5, 0.6, 0.7, 0.8, 0.9, 1.0], "format": ".0%", "title": "Sensitivity"}},
             "opacity": {"field": "hi", "type": "nominal", "scale": {"domain": ["y", "n"], "range": [1, 0.5]}, "legend": null}}},
          {"transform": [{"filter": "datum.t === 's'"}], "mark": {"type": "rect", "fill": "#D9D9D9", "stroke": "#333333", "strokeWidth": 1.1},
           "encoding": {"x": {"datum": -0.03875}, "x2": {"datum": 0.53875}, "y": {"datum": 1.03875}, "y2": {"datum": 1.0882}}},
          {"transform": [{"filter": "datum.t === 's'"}], "mark": {"type": "text", "fontSize": 10.5, "color": "#1A1A1A", "align": "center", "baseline": "middle"},
           "encoding": {"x": {"datum": 0.25}, "y": {"datum": 1.0635}, "text": {"field": "p"}}}
        ]
      },
      {
        "width": 207, "height": 247, "data": {"name": "b"},
        "transform": [{"filter": "datum.p === 'High efficacy'"}],
        "layer": [
          {"transform": [{"filter": "datum.t === 'h'"}, {"flatten": ["v"]}, {"window": [{"op": "row_number", "as": "i"}], "groupby": ["y"]}, {"lookup": "i", "from": {"data": {"name": "xs"}, "key": "i", "fields": ["x", "x2"]}}],
           "mark": {"type": "rect", "strokeWidth": 0},
           "encoding": {
             "x": {"field": "x", "type": "quantitative", "scale": {"domain": [-0.03875, 0.53875], "nice": false, "zero": false}, "axis": {"values": [0, 0.1, 0.2, 0.3, 0.4, 0.5], "format": ".1%", "title": "1 – Specificity"}},
             "y": {"field": "y", "type": "quantitative", "scale": {"domain": [0.46125, 1.0882], "nice": false, "zero": false}, "axis": {"values": [0.5, 0.6, 0.7, 0.8, 0.9, 1.0], "labels": false, "ticks": false, "title": null}},
             "x2": {"field": "x2"}, "y2": {"field": "y2"},
             "color": {"field": "v", "type": "quantitative", "scale": {"domain": [0, 17.1, 34.2], "range": ["#93D18C", "#FFFFBF", "#FC8D59"], "interpolate": "rgb"}, "legend": {"title": "Overtreatment (%)", "values": [0, 10, 20, 30]}}}},
          {"transform": [{"filter": "datum.t === 'l'"}], "mark": {"type": "line", "color": "#000000", "strokeWidth": 1.2},
           "encoding": {
             "x": {"field": "x", "type": "quantitative", "scale": {"domain": [-0.03875, 0.53875], "nice": false, "zero": false}, "axis": {"values": [0, 0.1, 0.2, 0.3, 0.4, 0.5], "format": ".1%", "title": "1 – Specificity"}},
             "y": {"field": "y", "type": "quantitative", "scale": {"domain": [0.46125, 1.0882], "nice": false, "zero": false}, "axis": {"values": [0.5, 0.6, 0.7, 0.8, 0.9, 1.0], "labels": false, "ticks": false, "title": null}},
             "detail": {"field": "lev"}, "order": {"field": "y"}}},
          {"transform": [{"filter": "datum.t === 'lab'"}], "mark": {"type": "text", "color": "#000000", "align": "center", "baseline": "middle", "fontSize": 13},
           "encoding": {
             "x": {"field": "x", "type": "quantitative", "scale": {"domain": [-0.03875, 0.53875], "nice": false, "zero": false}, "axis": {"values": [0, 0.1, 0.2, 0.3, 0.4, 0.5], "format": ".1%", "title": "1 – Specificity"}},
             "y": {"field": "y", "type": "quantitative", "scale": {"domain": [0.46125, 1.0882], "nice": false, "zero": false}, "axis": {"values": [0.5, 0.6, 0.7, 0.8, 0.9, 1.0], "labels": false, "ticks": false, "title": null}},
             "text": {"field": "txt"}}},
          {"transform": [{"filter": "datum.t === 'tri'"}], "mark": {"type": "point", "shape": "triangle-up", "filled": true, "size": 120, "fill": "#E67300", "stroke": "#1A1A1A", "strokeWidth": 1},
           "encoding": {
             "x": {"field": "x", "type": "quantitative", "scale": {"domain": [-0.03875, 0.53875], "nice": false, "zero": false}, "axis": {"values": [0, 0.1, 0.2, 0.3, 0.4, 0.5], "format": ".1%", "title": "1 – Specificity"}},
             "y": {"field": "y", "type": "quantitative", "scale": {"domain": [0.46125, 1.0882], "nice": false, "zero": false}, "axis": {"values": [0.5, 0.6, 0.7, 0.8, 0.9, 1.0], "labels": false, "ticks": false, "title": null}},
             "opacity": {"field": "hi", "type": "nominal", "scale": {"domain": ["y", "n"], "range": [1, 0.5]}, "legend": null}}},
          {"transform": [{"filter": "datum.t === 's'"}], "mark": {"type": "rect", "fill": "#D9D9D9", "stroke": "#333333", "strokeWidth": 1.1},
           "encoding": {"x": {"datum": -0.03875}, "x2": {"datum": 0.53875}, "y": {"datum": 1.03875}, "y2": {"datum": 1.0882}}},
          {"transform": [{"filter": "datum.t === 's'"}], "mark": {"type": "text", "fontSize": 10.5, "color": "#1A1A1A", "align": "center", "baseline": "middle"},
           "encoding": {"x": {"datum": 0.25}, "y": {"datum": 1.0635}, "text": {"field": "p"}}}
        ]
      },
      {
        "width": 207, "height": 247, "data": {"name": "b"},
        "transform": [{"filter": "datum.p === 'Real–life'"}],
        "layer": [
          {"transform": [{"filter": "datum.t === 'h'"}, {"flatten": ["v"]}, {"window": [{"op": "row_number", "as": "i"}], "groupby": ["y"]}, {"lookup": "i", "from": {"data": {"name": "xs"}, "key": "i", "fields": ["x", "x2"]}}],
           "mark": {"type": "rect", "strokeWidth": 0},
           "encoding": {
             "x": {"field": "x", "type": "quantitative", "scale": {"domain": [-0.03875, 0.53875], "nice": false, "zero": false}, "axis": {"values": [0, 0.1, 0.2, 0.3, 0.4, 0.5], "format": ".1%", "title": null}},
             "y": {"field": "y", "type": "quantitative", "scale": {"domain": [0.46125, 1.0882], "nice": false, "zero": false}, "axis": {"values": [0.5, 0.6, 0.7, 0.8, 0.9, 1.0], "labels": false, "ticks": false, "title": null}},
             "x2": {"field": "x2"}, "y2": {"field": "y2"},
             "color": {"field": "v", "type": "quantitative", "scale": {"domain": [0, 17.1, 34.2], "range": ["#93D18C", "#FFFFBF", "#FC8D59"], "interpolate": "rgb"}, "legend": {"title": "Overtreatment (%)", "values": [0, 10, 20, 30]}}}},
          {"transform": [{"filter": "datum.t === 'l'"}], "mark": {"type": "line", "color": "#000000", "strokeWidth": 1.2},
           "encoding": {
             "x": {"field": "x", "type": "quantitative", "scale": {"domain": [-0.03875, 0.53875], "nice": false, "zero": false}, "axis": {"values": [0, 0.1, 0.2, 0.3, 0.4, 0.5], "format": ".1%", "title": null}},
             "y": {"field": "y", "type": "quantitative", "scale": {"domain": [0.46125, 1.0882], "nice": false, "zero": false}, "axis": {"values": [0.5, 0.6, 0.7, 0.8, 0.9, 1.0], "labels": false, "ticks": false, "title": null}},
             "detail": {"field": "lev"}, "order": {"field": "y"}}},
          {"transform": [{"filter": "datum.t === 'lab'"}], "mark": {"type": "text", "color": "#000000", "align": "center", "baseline": "middle", "fontSize": 13},
           "encoding": {
             "x": {"field": "x", "type": "quantitative", "scale": {"domain": [-0.03875, 0.53875], "nice": false, "zero": false}, "axis": {"values": [0, 0.1, 0.2, 0.3, 0.4, 0.5], "format": ".1%", "title": null}},
             "y": {"field": "y", "type": "quantitative", "scale": {"domain": [0.46125, 1.0882], "nice": false, "zero": false}, "axis": {"values": [0.5, 0.6, 0.7, 0.8, 0.9, 1.0], "labels": false, "ticks": false, "title": null}},
             "text": {"field": "txt"}}},
          {"transform": [{"filter": "datum.t === 'tri'"}], "mark": {"type": "point", "shape": "triangle-up", "filled": true, "size": 120, "fill": "#E67300", "stroke": "#1A1A1A", "strokeWidth": 1},
           "encoding": {
             "x": {"field": "x", "type": "quantitative", "scale": {"domain": [-0.03875, 0.53875], "nice": false, "zero": false}, "axis": {"values": [0, 0.1, 0.2, 0.3, 0.4, 0.5], "format": ".1%", "title": null}},
             "y": {"field": "y", "type": "quantitative", "scale": {"domain": [0.46125, 1.0882], "nice": false, "zero": false}, "axis": {"values": [0.5, 0.6, 0.7, 0.8, 0.9, 1.0], "labels": false, "ticks": false, "title": null}},
             "opacity": {"field": "hi", "type": "nominal", "scale": {"domain": ["y", "n"], "range": [1, 0.5]}, "legend": null}}},
          {"transform": [{"filter": "datum.t === 's'"}], "mark": {"type": "rect", "fill": "#D9D9D9", "stroke": "#333333", "strokeWidth": 1.1},
           "encoding": {"x": {"datum": -0.03875}, "x2": {"datum": 0.53875}, "y": {"datum": 1.03875}, "y2": {"datum": 1.0882}}},
          {"transform": [{"filter": "datum.t === 's'"}], "mark": {"type": "text", "fontSize": 10.5, "color": "#1A1A1A", "align": "center", "baseline": "middle"},
           "encoding": {"x": {"datum": 0.25}, "y": {"datum": 1.0635}, "text": {"field": "p"}}}
        ]
      }
    ]
  }
],
"spacing": 17,
"resolve": {"scale": {"color": "independent"}}
}
